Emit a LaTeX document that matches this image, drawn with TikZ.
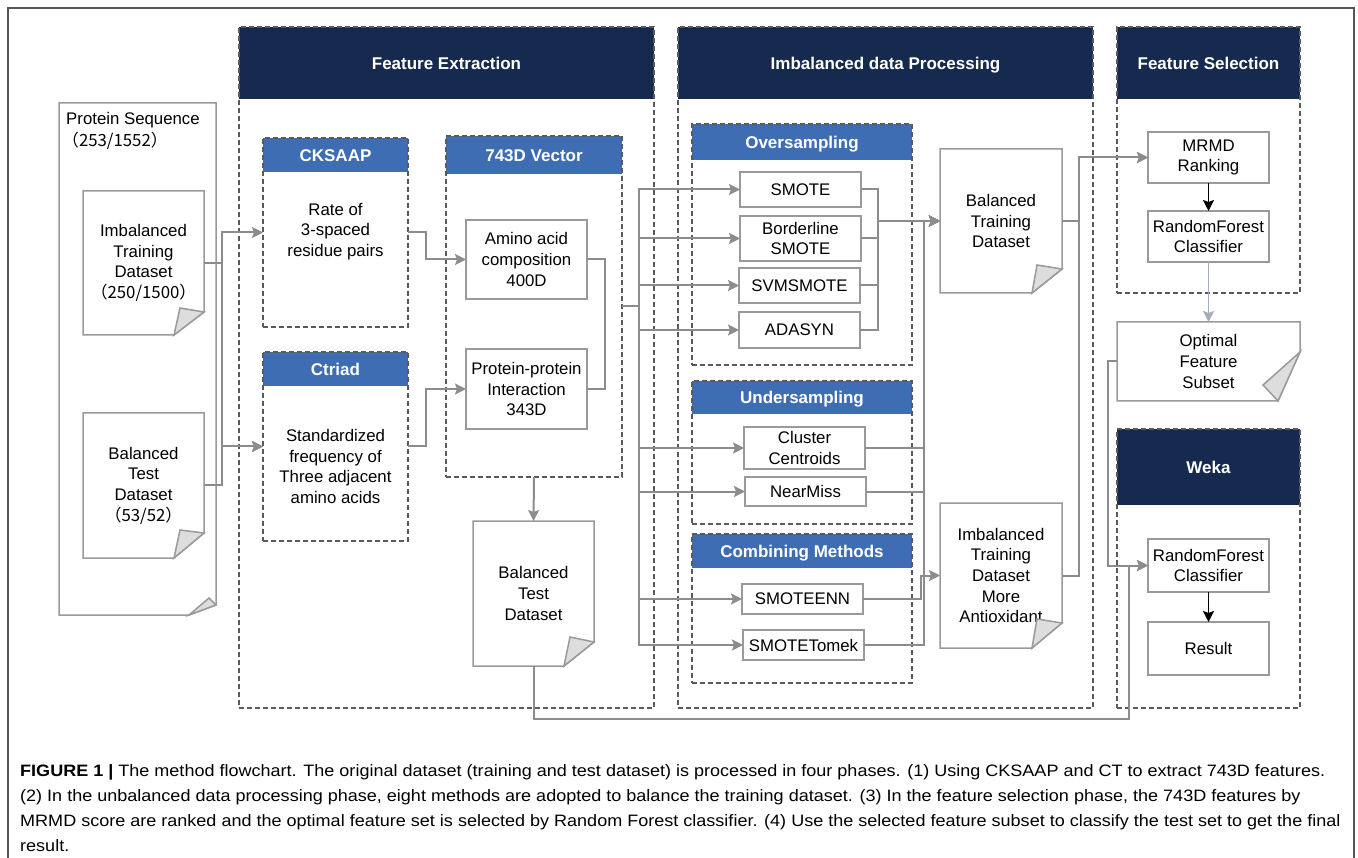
\documentclass[tikz,border=0pt]{standalone}
\usepackage{fontspec}
\setmainfont{Liberation Sans}
\newfontfamily\cjk{Noto Sans CJK SC}
\usepackage{graphicx}
\usetikzlibrary{arrows.meta,calc}
\definecolor{navy}{HTML}{152A4E}
\definecolor{hblue}{HTML}{3E6DB3}
\definecolor{linec}{HTML}{8C8C8C}
\definecolor{boxc}{HTML}{9A9A9A}
\definecolor{dashc}{HTML}{5A5A5A}
\definecolor{foldc}{HTML}{DDDDDD}
\definecolor{optc}{HTML}{A3ADBB}
\definecolor{framec}{HTML}{555555}
\newcommand\tf{\fontsize{16.8}{20.7}\selectfont}
\newcommand\hf{\fontsize{17}{20}\selectfont\bfseries}
\newcommand\capf{\fontsize{16.5}{20}\selectfont}
\newlength\capw
\newcommand\docout[5]{%
  \draw[docl] (#1.north west) -- (#1.north east) -- ($(#1.south east)+(0,-#3)$) -- ($(#1.south east)+(-#2,0)$) -- (#1.south west) -- cycle;
  \draw[docl,fill=foldc] ($(#1.south east)+(0,-#3)$) -- ($(#1.south east)+(-#4,-#5)$) -- ($(#1.south east)+(-#2,0)$) -- cycle;}
\begin{document}
\settowidth\capw{\capf\textbf{FIGURE 1 |} The method flowchart. The original dataset (training and test dataset) is processed in four phases. (1) Using CKSAAP and CT to extract 743D features.}%
\pgfmathsetmacro\capsx{1305/\capw}%
\begin{tikzpicture}[x=1pt,y=-1pt,
  panelbox/.style={draw=dashc,line width=1.3pt,dash pattern=on 5pt off 3pt,inner sep=0pt,outer sep=0pt},
  navyhdr/.style={fill=navy,draw=none,inner sep=0pt,outer sep=0pt,text=white,font=\hf,text height=12.2pt,text depth=0pt},
  bluehdr/.style={fill=hblue,draw=none,inner sep=0pt,outer sep=0pt,text=white,font=\hf,text height=12.2pt,text depth=0pt},
  box/.style={draw=boxc,line width=1.5pt,fill=white,inner sep=0pt,outer sep=0pt,minimum width=121pt,align=center,font=\tf,text=black},
  doc/.style={inner sep=0pt,outer sep=0pt,align=center,font=\tf,text=black},
  bodytxt/.style={inner sep=0pt,align=center,font=\tf,text=black},
  conn/.style={draw=linec,line width=2pt},
  arr/.style={conn,-{Stealth[length=11pt,width=11pt,inset=2pt]}},
  barr/.style={draw=black,line width=1.8pt,-{Stealth[length=11pt,width=11pt,inset=2pt]}},
  oarr/.style={draw=optc,line width=1.8pt,-{Stealth[length=11pt,width=11pt,inset=2pt]}},
  docl/.style={draw=boxc,line width=1.5pt,line join=miter},
]
\useasboundingbox (0,0) rectangle (1358,858);
\fill[white] (0,0) rectangle (1358,858);
\draw[draw=framec,line width=1.3pt] (8,880) -- (8,8) -- (1354,8) -- (1354,880);

% ---------- left documents
\node[doc,minimum width=157pt,minimum height=512pt] (ps) at (137.5,359) {};
\docout{ps}{27}{10}{7}{17}
\node[anchor=base west,font=\tf,inner sep=0pt] (psl1) at (66,125) {Protein Sequence};
\node[anchor=base west,font=\tf,inner sep=0pt] (psl2) at (62,147) {\cjk{（}253/1552\cjk{）}};
\node[doc,fill=white,minimum width=121pt,minimum height=144pt] (imb) at (143.5,263) {Imbalanced\\Training\\Dataset\\\cjk{（}250/1500\cjk{）}};
\docout{imb}{30}{23}{24}{27}
\node[doc,fill=white,minimum width=121pt,minimum height=145pt] (bte) at (143.5,485.5) {Balanced\\Test\\Dataset\\\cjk{（}53/52\cjk{）}};
\docout{bte}{30}{25}{24}{28}

% ---------- Feature Extraction
\node[navyhdr,minimum width=415pt,minimum height=72pt] (feh) at (446.5,63) {Feature Extraction};
\node[panelbox,minimum width=415pt,minimum height=681pt] (fe) at (446.5,367.5) {};
\node[bluehdr,minimum width=145pt,minimum height=34pt] (cksh) at (335.5,155) {CKSAAP};
\node[panelbox,minimum width=145pt,minimum height=189pt] (cks) at (335.5,232.5) {};
\node[bodytxt] (ckst) at (335.5,231.5) {Rate of\\3-spaced\\residue pairs};
\node[bluehdr,minimum width=145pt,minimum height=34pt] (ctrh) at (335.5,369) {Ctriad};
\node[panelbox,minimum width=145pt,minimum height=189pt] (ctr) at (335.5,446.5) {};
\node[bodytxt] (ctrt) at (335.5,466.5) {Standardized\\frequency of\\Three adjacent\\amino acids};
\node[bluehdr,minimum width=176pt,minimum height=38pt] (vech) at (534,155) {743D Vector};
\node[panelbox,minimum width=176pt,minimum height=341pt] (vec) at (534,306.5) {};
\node[box,minimum height=79pt] (amino) at (526.5,259.5) {Amino acid\\composition\\400D};
\node[box,minimum height=80pt] (ppi) at (526.5,389) {Protein-protein\\Interaction\\343D};
\node[doc,minimum width=121pt,minimum height=145pt] (btm) at (533.5,593.5) {Balanced\\Test\\Dataset};
\docout{btm}{30}{24}{24}{29}

% ---------- Imbalanced data Processing
\node[navyhdr,minimum width=415pt,minimum height=72pt] (idph) at (885.5,63) {Imbalanced data Processing};
\node[panelbox,minimum width=415pt,minimum height=681pt] (idp) at (885.5,367.5) {};
\node[bluehdr,minimum width=220pt,minimum height=36pt] (ovsh) at (802,142) {Oversampling};
\node[panelbox,minimum width=220pt,minimum height=241pt] (ovs) at (802,244.5) {};
\node[box,minimum height=35pt] (smote) at (800.5,189.5) {SMOTE};
\node[box,minimum height=45pt] (bsmote) at (800.5,238.5) {Borderline\\SMOTE};
\node[box,minimum height=35pt] (svm) at (799.5,285.5) {SVMSMOTE};
\node[box,minimum height=36pt] (ada) at (799.5,330) {ADASYN};
\node[bluehdr,minimum width=220pt,minimum height=33pt] (unsh) at (802,397.5) {Undersampling};
\node[panelbox,minimum width=220pt,minimum height=143pt] (uns) at (802,452.5) {};
\node[box,minimum height=42pt] (cc) at (804.5,448) {Cluster\\Centroids};
\node[box,minimum height=29pt] (nm) at (805.5,491.5) {NearMiss};
\node[bluehdr,minimum width=220pt,minimum height=34pt] (cmbh) at (802,551) {Combining Methods};
\node[panelbox,minimum width=220pt,minimum height=149pt] (cmb) at (802,608.5) {};
\node[box,minimum height=30pt] (senn) at (802.5,599) {SMOTEENN};
\node[box,minimum height=30pt] (stom) at (803.5,645) {SMOTETomek};
\node[doc,minimum width=122pt,minimum height=144pt] (btr) at (1001,221) {Balanced\\Training\\Dataset};
\docout{btr}{30}{24}{25}{28}
\node[doc,minimum width=122pt,minimum height=145pt] (ima) at (1001,575.5) {Imbalanced\\Training\\Dataset\\More\\Antioxidant};
\docout{ima}{30}{25}{25}{29}

% ---------- Feature Selection
\node[navyhdr,minimum width=183pt,minimum height=72pt] (fsh) at (1208.5,63) {Feature Selection};
\node[panelbox,minimum width=183pt,minimum height=266pt] (fs) at (1208.5,160) {};
\node[box,minimum height=51pt] (mrmd) at (1208.5,157.5) {MRMD\\Ranking};
\node[box,minimum height=51pt] (rf1) at (1208.5,236.5) {RandomForest\\Classifier};
\node[doc,minimum width=183pt,minimum height=79pt] (opt) at (1208.5,361.5) {Optimal\\Feature\\Subset};
\docout{opt}{22}{49}{37}{16}

% ---------- Weka
\node[navyhdr,minimum width=183pt,minimum height=76pt] (wekah) at (1208.5,467) {Weka};
\node[panelbox,minimum width=183pt,minimum height=279pt] (weka) at (1208.5,568.5) {};
\node[box,minimum height=53pt] (rf2) at (1208.5,565.5) {RandomForest\\Classifier};
\node[box,minimum height=53pt] (res) at (1208.5,648.5) {Result};

% ---------- connectors
\draw[arr] (imb.east) -- ++(18,0) |- (cks.west);
\draw[arr] (imb.east) -- ++(18,0) |- (ctr.west);
\draw[arr] (bte.east) -- ++(18,0) |- (ctr.west);
\draw[arr] (cks.east) -- ++(18,0) |- (amino.west);
\draw[arr] (ctr.east) -- ++(18,0) |- (ppi.west);
\draw[conn] (amino.east) -- ++(18,0) |- (ppi.east);
\foreach \t in {smote,bsmote,svm,ada,cc,nm,senn,stom}
  \draw[arr] (vec.east) -- ++(17,0) |- (\t.west);
\draw[arr] (vec.south) -- (btm.north);
\coordinate (wb) at (1129,719);
\draw[arr] (btm.south) |- (wb) |- (rf2.west);
\draw[arr] (opt.west) -- ++(-9,0) |- (rf2.west);
\draw[arr] (smote.east) -- ++(17,0) |- (btr.west);
\draw[arr] (bsmote.east) -- ++(17,0) |- (btr.west);
\draw[arr] (svm.east) -- ++(18,0) |- (btr.west);
\draw[arr] (ada.east) -- ++(18,0) |- (btr.west);
\draw[arr] (cc.east) -- ++(59,0) |- (btr.west);
\draw[arr] (nm.east) -- ++(58,0) |- (btr.west);
\draw[arr] (stom.east) -- ++(60,0) |- (btr.west);
\draw[arr] (senn.east) -- ++(58,0) |- (ima.west);
\draw[arr] (btr.east) -- ++(17,0) |- (mrmd.west);
\draw[arr] (ima.east) -- ++(17,0) |- (mrmd.west);
\draw[barr] (mrmd.south) -- (rf1.north);
\draw[oarr] (rf1.south) -- (opt.north);
\draw[barr] (rf2.south) -- (res.north);

% ---------- caption
\node[anchor=base west,inner sep=0pt] (cap1) at (20,776.5) {\scalebox{\capsx}[1]{\capf\textbf{FIGURE 1 |} The method flowchart. The original dataset (training and test dataset) is processed in four phases. (1) Using CKSAAP and CT to extract 743D features.}};
\node[anchor=base west,inner sep=0pt] (cap2) at (20,801.5) {\scalebox{\capsx}[1]{\capf (2) In the unbalanced data processing phase, eight methods are adopted to balance the training dataset. (3) In the feature selection phase, the 743D features by}};
\node[anchor=base west,inner sep=0pt] (cap3) at (20,826.5) {\scalebox{\capsx}[1]{\capf MRMD score are ranked and the optimal feature set is selected by Random Forest classifier. (4) Use the selected feature subset to classify the test set to get the final}};
\node[anchor=base west,inner sep=0pt] (cap4) at (20,851.5) {\scalebox{\capsx}[1]{\capf result.}};
\end{tikzpicture}
\end{document}
